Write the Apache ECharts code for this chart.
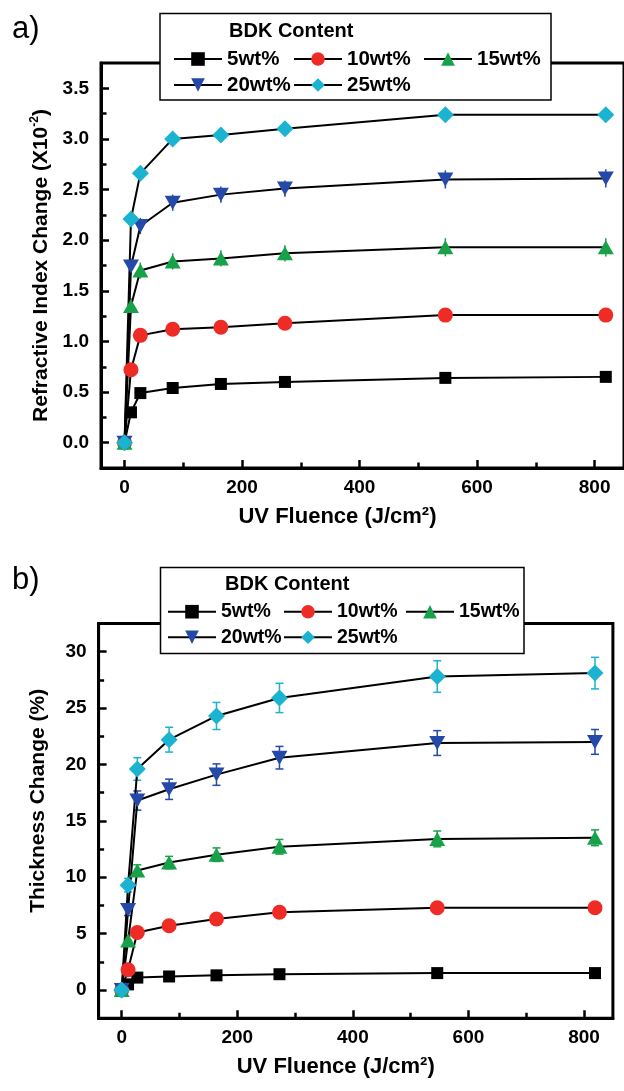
<!DOCTYPE html>
<html>
<head>
<meta charset="utf-8">
<script src="https://cdn.jsdelivr.net/npm/echarts@6/dist/echarts.min.js"></script>
<style>
  html, body { margin: 0; padding: 0; background: #fff; }
  #chart { width: 624px; height: 1091px; }
</style>
</head>
<body>
<div id="chart"></div>
<script>
// UV fluence (J/cm2), shared by both panels
const fluence = [0, 11, 27, 82, 164, 273, 546, 819];

// a) refractive index change (x10^-2)
const ri5 = [0, 0.30, 0.49, 0.54, 0.58, 0.60, 0.64, 0.65];
const ri10 = [0, 0.72, 1.06, 1.12, 1.14, 1.18, 1.26, 1.26];
const ri15 = [0, 1.35, 1.70, 1.79, 1.82, 1.87, 1.93, 1.93];
const ri20 = [0, 1.74, 2.14, 2.37, 2.45, 2.51, 2.60, 2.61];
const ri25 = [0, 2.21, 2.66, 3.00, 3.04, 3.10, 3.24, 3.24];
const riErr15 = [0, 0.08, 0.08, 0.08, 0.08, 0.08, 0.09, 0.09];
const riErr20 = [0, 0.08, 0.08, 0.08, 0.08, 0.08, 0.09, 0.09];

// b) thickness change (%)
const th5 = [0, 0.5, 1.1, 1.2, 1.3, 1.4, 1.5, 1.5];
const th10 = [0, 1.8, 5.1, 5.7, 6.3, 6.9, 7.3, 7.3];
const th15 = [0, 4.4, 10.6, 11.3, 12.0, 12.7, 13.4, 13.5];
const th20 = [0, 7.1, 16.8, 17.8, 19.1, 20.6, 21.9, 22.0];
const th25 = [0, 9.3, 19.6, 22.2, 24.3, 25.9, 27.8, 28.1];
const thErr10 = [0, 0.3, 0.3, 0.3, 0.3, 0.3, 0.3, 0.3];
const thErr15 = [0, 0.4, 0.5, 0.55, 0.6, 0.65, 0.7, 0.7];
const thErr20 = [0, 0.5, 0.85, 0.9, 0.95, 1.0, 1.1, 1.1];
const thErr25 = [0, 0.6, 1.0, 1.1, 1.2, 1.3, 1.4, 1.4];

// ticks
const xTicks = [0, 200, 400, 600, 800];
const xMinor = [100, 300, 500, 700];
const riTicks = [0, 0.5, 1.0, 1.5, 2.0, 2.5, 3.0, 3.5];
const riMinor = [0.25, 0.75, 1.25, 1.75, 2.25, 2.75, 3.25];
const thTicks = [0, 5, 10, 15, 20, 25, 30];
const thMinor = [2.5, 7.5, 12.5, 17.5, 22.5, 27.5];

const names = ['5wt%', '10wt%', '15wt%', '20wt%', '25wt%'];
const colors = ['#000000', '#ee2b24', '#17a24a', '#2449a8', '#1bb3d0'];
const symbols = ['rect', 'circle', 'triangle', 'triangle', 'diamond'];
const symbolSizes = [12, 15, [16, 14], [16, 14], 17];
const rotates = [0, 0, 0, 180, 0];

const FONT = '"Liberation Sans", Arial, sans-serif';

const zip = (ys) => fluence.map((x, i) => [x, ys[i]]);
const zipErr = (ys, es) => fluence.map((x, i) => [x, ys[i], es[i]]);

const lineSeries = (vals, idx, axis) => ({
  name: names[idx],
  type: 'line',
  xAxisIndex: axis,
  yAxisIndex: axis,
  data: zip(vals),
  symbol: symbols[idx],
  symbolSize: symbolSizes[idx],
  symbolRotate: rotates[idx],
  lineStyle: { color: '#000', width: 2 },
  itemStyle: { color: colors[idx] },
  z: 3,
  animation: false,
});

const errSeries = (vals, errs, idx, axis, cap) => ({
  type: 'custom',
  xAxisIndex: axis,
  yAxisIndex: axis,
  data: zipErr(vals, errs),
  encode: { x: 0, y: 1 },
  z: 2,
  silent: true,
  animation: false,
  renderItem: (params, api) => {
    const x = api.value(0);
    const y = api.value(1);
    const e = api.value(2);
    if (!e) return null;
    const hi = api.coord([x, y + e]);
    const lo = api.coord([x, y - e]);
    const style = { stroke: colors[idx], lineWidth: 1.5 };
    const children = [
      { type: 'line', shape: { x1: hi[0], y1: hi[1], x2: lo[0], y2: lo[1] }, style },
    ];
    if (cap) {
      children.push({ type: 'line', shape: { x1: hi[0] - cap, y1: hi[1], x2: hi[0] + cap, y2: hi[1] }, style });
      children.push({ type: 'line', shape: { x1: lo[0] - cap, y1: lo[1], x2: lo[0] + cap, y2: lo[1] }, style });
    }
    return { type: 'group', children };
  },
});

const tickLabel = { fontFamily: FONT, fontSize: 19, fontWeight: 'bold', color: '#000' };

const xMain = (grid, nameShift) => ({
  type: 'value', gridIndex: grid, min: -40, max: 850, position: 'bottom',
  name: 'UV Fluence (J/cm²)', nameLocation: 'middle', nameGap: 38,
  nameTextStyle: { fontFamily: FONT, fontSize: 22, fontWeight: 'bold', color: '#000', padding: [0, nameShift, 0, 0] },
  axisLine: { onZero: false, lineStyle: { color: '#000', width: 3 } },
  axisTick: { inside: true, length: 8, customValues: xTicks, lineStyle: { color: '#000', width: 2.5 } },
  axisLabel: Object.assign({ customValues: xTicks, margin: 10 }, tickLabel),
  splitLine: { show: false },
});
const xMinorAxis = (grid) => ({
  type: 'value', gridIndex: grid, min: -40, max: 850, position: 'bottom',
  axisLine: { show: false, onZero: false },
  axisTick: { inside: true, length: 5.5, customValues: xMinor, lineStyle: { color: '#000', width: 2.5 } },
  axisLabel: { show: false },
  splitLine: { show: false },
});
const yMain = (grid, min, max, ticks, name, fmt, gap, namePad) => ({
  type: 'value', gridIndex: grid, min, max, position: 'left',
  name, nameLocation: 'middle', nameGap: gap, nameRotate: 90,
  nameTextStyle: {
    fontFamily: FONT, fontSize: 21, fontWeight: 'bold', color: '#000', padding: namePad,
    rich: {
      t: { fontFamily: FONT, fontSize: 21, fontWeight: 'bold', color: '#000', lineHeight: 24 },
      s: { fontFamily: FONT, fontSize: 12, fontWeight: 'bold', color: '#000', verticalAlign: 'top', lineHeight: 24 },
    },
  },
  axisLine: { onZero: false, lineStyle: { color: '#000', width: 3 } },
  axisTick: { inside: true, length: 8, customValues: ticks, lineStyle: { color: '#000', width: 2.5 } },
  axisLabel: Object.assign({ customValues: ticks, margin: 12, formatter: fmt }, tickLabel),
  splitLine: { show: false },
});
const yMinorAxis = (grid, min, max, ticks) => ({
  type: 'value', gridIndex: grid, min, max, position: 'left',
  axisLine: { show: false, onZero: false },
  axisTick: { inside: true, length: 5.5, customValues: ticks, lineStyle: { color: '#000', width: 2.5 } },
  axisLabel: { show: false },
  splitLine: { show: false },
});

// legend boxes: one legend per entry so the two rows line up like the original
const legendItems = (cols, rows, fontSize) => {
  const out = [];
  const layout = [[0, 0], [1, 0], [2, 0], [0, 1], [1, 1]];
  layout.forEach(([c, r], i) => {
    out.push({
      data: [names[i]],
      left: cols[c], top: rows[r] - 11,
      padding: 0,
      itemWidth: 48, itemHeight: 17,
      selectedMode: false,
      z: 100,
      textStyle: { fontFamily: FONT, fontSize, fontWeight: 'bold', color: '#000', lineHeight: 22 },
    });
  });
  return out;
};

const chart = echarts.init(document.getElementById('chart'));

chart.setOption({
  backgroundColor: '#fff',
  animation: false,
  grid: [
    { left: 101, top: 63, width: 529, height: 405, show: true, borderColor: '#000', borderWidth: 3 },
    { left: 98.6, top: 623.5, width: 514.3, height: 394.7, show: true, borderColor: '#000', borderWidth: 3 },
  ],
  xAxis: [xMain(0, 50), xMinorAxis(0), xMain(1, 40), xMinorAxis(1)],
  yAxis: [
    yMain(0, -0.25, 3.75, riTicks, '{t|Refractive Index Change (X10}{s|-2}{t|)}', (v) => v.toFixed(1), 46, 0),
    yMinorAxis(0, -0.25, 3.75, riMinor),
    yMain(1, -2.5, 32.5, thTicks, '{t|Thickness Change (%)}', (v) => String(v), 48, [0, 0, 0, 40]),
    yMinorAxis(1, -2.5, 32.5, thMinor),
  ],
  legend: [].concat(
    legendItems([173, 293, 423], [59, 85], 20.5),
    legendItems([167, 283, 405], [611.7, 637.3], 19.5)
  ),
  graphic: [
    { type: 'text', left: 12, top: 14, style: { text: 'a)', font: '31px ' + FONT, fill: '#000' } },
    { type: 'text', left: 12, top: 565, style: { text: 'b)', font: '31px ' + FONT, fill: '#000' } },
    { type: 'rect', shape: { x: 160, y: 13.5, width: 391, height: 86.5 }, style: { fill: '#fff', stroke: '#000', lineWidth: 1.5 }, z: 50 },
    { type: 'rect', shape: { x: 160.5, y: 567.5, width: 363.5, height: 86 }, style: { fill: '#fff', stroke: '#000', lineWidth: 1.5 }, z: 50 },
    { type: 'text', x: 229, y: 31, style: { text: 'BDK Content', font: 'bold 20px ' + FONT, fill: '#000', textVerticalAlign: 'middle' }, z: 60 },
    { type: 'text', x: 225, y: 584, style: { text: 'BDK Content', font: 'bold 20px ' + FONT, fill: '#000', textVerticalAlign: 'middle' }, z: 60 },
  ],
  series: [
    errSeries(ri15, riErr15, 2, 0, 0),
    errSeries(ri20, riErr20, 3, 0, 0),
    lineSeries(ri5, 0, 0),
    lineSeries(ri10, 1, 0),
    lineSeries(ri15, 2, 0),
    lineSeries(ri20, 3, 0),
    lineSeries(ri25, 4, 0),
    errSeries(th10, thErr10, 1, 2, 4),
    errSeries(th15, thErr15, 2, 2, 4),
    errSeries(th20, thErr20, 3, 2, 4),
    errSeries(th25, thErr25, 4, 2, 4),
    lineSeries(th5, 0, 2),
    lineSeries(th10, 1, 2),
    lineSeries(th15, 2, 2),
    lineSeries(th20, 3, 2),
    lineSeries(th25, 4, 2),
  ],
});
</script>
</body>
</html>
